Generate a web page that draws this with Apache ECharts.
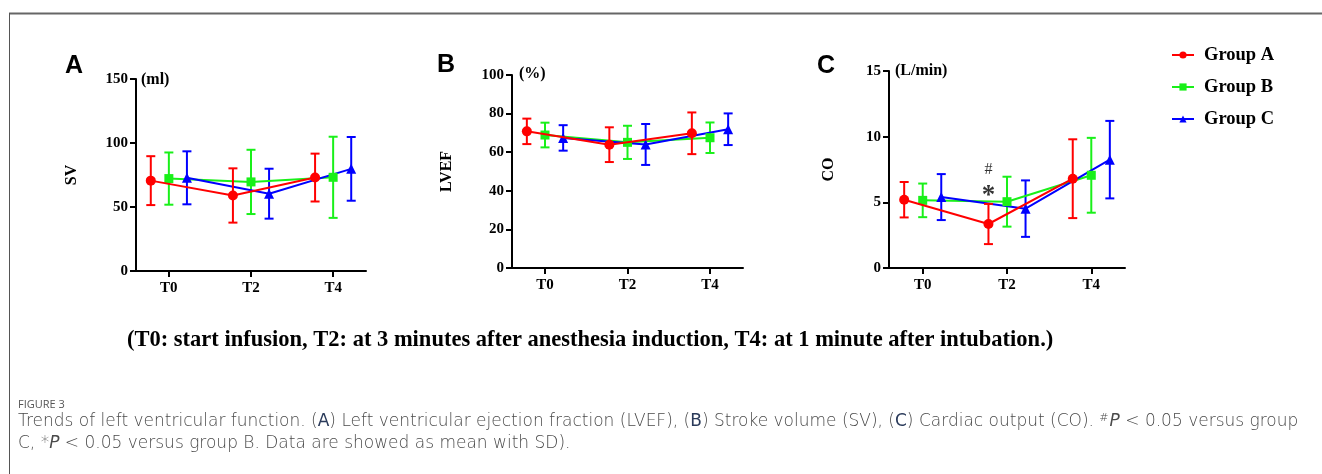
<!DOCTYPE html>
<html>
<head>
<meta charset="utf-8">
<script src="https://cdn.jsdelivr.net/npm/echarts@6/dist/echarts.min.js"></script>
<style>
html,body{margin:0;padding:0;background:#fff;}
#chart{width:1322px;height:474px;}
</style>
</head>
<body>
<div id="chart"></div>
<script>
// ---- data ----
const categories = ['T0', 'T2', 'T4'];
const groupNames = ['Group A', 'Group B', 'Group C'];

// SV (ml): mean and SD
const svA = [70.6, 59.0, 73.0];
const svA_sd = [19.1, 21.2, 18.7];
const svB = [72.2, 69.6, 73.2];
const svB_sd = [20.4, 25.1, 31.7];
const svC = [72.8, 60.4, 79.8];
const svC_sd = [20.7, 19.5, 24.9];

// LVEF (%): mean and SD
const efA = [70.8, 63.9, 69.8];
const efA_sd = [6.6, 9.0, 10.8];
const efB = [68.9, 65.1, 67.5];
const efB_sd = [6.4, 8.6, 7.9];
const efC = [67.4, 64.0, 71.9];
const efC_sd = [6.6, 10.6, 8.2];

// CO (L/min): mean and SD
const coA = [5.2, 3.35, 6.8];
const coA_sd = [1.35, 1.53, 3.0];
const coB = [5.15, 5.05, 7.06];
const coB_sd = [1.28, 1.9, 2.85];
const coC = [5.4, 4.52, 8.25];
const coC_sd = [1.75, 2.15, 2.95];

// significance marks on panel C (Group A at T2)
const sigText = ['#', '*'];
const sigValue = [7.45, 5.45];
const sigCategory = [1, 1];

// axis ticks
const svTicks = [0, 50, 100, 150];
const efTicks = [0, 20, 40, 60, 80, 100];
const coTicks = [0, 5, 10, 15];

// ---- styling ----
const colors = ['#ff0000', '#19f019', '#0000ff'];
const symbols = ['circle', 'rect', 'triangle'];
const symbolSizes = [10, 9, 10];
const dodge = [-0.22, 0, 0.22];
const serif = '"Liberation Serif", "Times New Roman", serif';

const panels = [
  { grid: { left: 136, top: 79, width: 230, height: 192 }, ticks: svTicks, name: 'SV', nameGap: 56,
    means: [svA, svB, svC], sds: [svA_sd, svB_sd, svC_sd] },
  { grid: { left: 512, top: 75, width: 231, height: 193 }, ticks: efTicks, name: 'LVEF', nameGap: 57,
    means: [efA, efB, efC], sds: [efA_sd, efB_sd, efC_sd] },
  { grid: { left: 889, top: 71, width: 236, height: 197 }, ticks: coTicks, name: 'CO', nameGap: 52,
    means: [coA, coB, coC], sds: [coA_sd, coB_sd, coC_sd] }
];

const grids = [], xAxes = [], yAxes = [], series = [];
const axisLineStyle = { color: '#000', width: 2 };
const labelFont = { fontFamily: serif, fontWeight: 'bold', fontSize: 15, color: '#000' };

panels.forEach((p, pi) => {
  grids.push(p.grid);
  xAxes.push({
    type: 'value', gridIndex: pi, min: -0.4, max: 2.4,
    axisLine: { show: true, onZero: false, lineStyle: axisLineStyle },
    axisTick: { show: true, length: 6, lineStyle: axisLineStyle, customValues: [0, 1, 2] },
    axisLabel: Object.assign({ margin: 10, customValues: [0, 1, 2],
      formatter: v => categories[Math.round(v)] }, labelFont),
    splitLine: { show: false }
  });
  const t = p.ticks;
  yAxes.push({
    type: 'value', gridIndex: pi, min: t[0], max: t[t.length - 1], interval: t[1] - t[0],
    axisLine: { show: true, onZero: false, lineStyle: axisLineStyle },
    axisTick: { show: true, length: 6, lineStyle: axisLineStyle },
    axisLabel: Object.assign({ margin: 8 }, labelFont),
    splitLine: { show: false },
    name: p.name, nameLocation: 'middle', nameGap: p.nameGap,
    nameTextStyle: { fontFamily: serif, fontWeight: 'bold', fontSize: 16, color: '#000' }
  });

  [1, 2, 0].forEach(g => {
    const mean = p.means[g], sd = p.sds[g], col = colors[g];
    series.push({
      type: 'custom', name: groupNames[g] + ' SD',
      xAxisIndex: pi, yAxisIndex: pi, z: g === 0 ? 6 : 3,
      data: categories.map((c, i) => [i + dodge[g], mean[i] - sd[i], mean[i] + sd[i]]),
      encode: { x: 0, y: [1, 2] },
      renderItem: (params, api) => {
        const x = api.value(0);
        const top = api.coord([x, api.value(2)]);
        const bot = api.coord([x, api.value(1)]);
        const w = 4.5;
        const st = { stroke: col, lineWidth: 2, fill: null };
        return { type: 'group', children: [
          { type: 'line', shape: { x1: top[0], y1: top[1], x2: bot[0], y2: bot[1] }, style: st },
          { type: 'line', shape: { x1: top[0] - w, y1: top[1], x2: top[0] + w, y2: top[1] }, style: st },
          { type: 'line', shape: { x1: bot[0] - w, y1: bot[1], x2: bot[0] + w, y2: bot[1] }, style: st }
        ]};
      },
      silent: true
    });
    series.push({
      type: 'line', name: groupNames[g], xAxisIndex: pi, yAxisIndex: pi,
      z: g === 0 ? 7 : 4,
      data: categories.map((c, i) => [i + dodge[g], mean[i]]),
      symbol: symbols[g], symbolSize: symbolSizes[g], showSymbol: true,
      lineStyle: { color: col, width: 2 }, itemStyle: { color: col }
    });
  });
});

// significance marks on panel C
series.push({
  type: 'scatter', xAxisIndex: 2, yAxisIndex: 2, symbolSize: 0, silent: true, z: 8,
  data: sigText.map((s, i) => ({
    value: [sigCategory[i] + dodge[0], sigValue[i], s],
    label: s === '*' ? { fontSize: 27, fontWeight: 'bold' } : { fontSize: 16 }
  })),
  label: { show: true, position: 'inside', formatter: pr => pr.value[2],
    fontFamily: serif, color: '#000' }
});

const mainCaption = '(T0: start infusion, T2: at 3 minutes after anesthesia induction, T4: at 1 minute after intubation.)';
const capFont = '"DejaVu Sans", sans-serif';

const graphics = [
  { type: 'line', shape: { x1: 9, y1: 13.5, x2: 1322, y2: 13.5 }, style: { stroke: '#666', lineWidth: 2 } },
  { type: 'line', shape: { x1: 9.5, y1: 13, x2: 9.5, y2: 474 }, style: { stroke: '#555', lineWidth: 1 } },
  { type: 'text', x: 65, y: 66, style: { text: 'A', font: 'bold 25px "Liberation Sans", Arial, sans-serif', fill: '#000', verticalAlign: 'middle' } },
  { type: 'text', x: 437, y: 65, style: { text: 'B', font: 'bold 25px "Liberation Sans", Arial, sans-serif', fill: '#000', verticalAlign: 'middle' } },
  { type: 'text', x: 817, y: 66, style: { text: 'C', font: 'bold 25px "Liberation Sans", Arial, sans-serif', fill: '#000', verticalAlign: 'middle' } },
  { type: 'text', x: 141, y: 80, style: { text: '(ml)', font: 'bold 16px ' + serif, fill: '#000', verticalAlign: 'middle' } },
  { type: 'text', x: 519, y: 74, style: { text: '(%)', font: 'bold 16px ' + serif, fill: '#000', verticalAlign: 'middle' } },
  { type: 'text', x: 895, y: 71, style: { text: '(L/min)', font: 'bold 16px ' + serif, fill: '#000', verticalAlign: 'middle' } },
  { type: 'text', x: 127, y: 340, style: { text: mainCaption, font: 'bold 22.5px ' + serif, fill: '#000', verticalAlign: 'middle' } },
  { type: 'text', x: 18, y: 405, style: { text: 'FIGURE 3', font: '11px "Open Sans", sans-serif', fill: '#555', verticalAlign: 'middle' } },
  { type: 'text', x: 18, y: 422, style: {
      text: 'Trends of left ventricular function. ({d|A}) Left ventricular ejection fraction (LVEF), ({d|B}) Stroke volume (SV), ({d|C}) Cardiac output (CO). {sup|#}{i|P} < 0.05 versus group',
      font: '200 17px ' + capFont, fill: '#4a4a4a', verticalAlign: 'middle',
      rich: {
        d: { fontFamily: capFont, fontSize: 17, fill: '#2a3a5a', fontWeight: 'normal' },
        sup: { fontFamily: capFont, fontSize: 11, fill: '#4a4a4a', fontWeight: 200, verticalAlign: 'top', padding: [0, 1, 8, 0] },
        i: { fontFamily: capFont, fontSize: 17, fill: '#4a4a4a', fontWeight: 200, fontStyle: 'italic' }
      } } },
  { type: 'text', x: 18, y: 444, style: {
      text: 'C, *{i|P} < 0.05 versus group B. Data are showed as mean with SD).',
      font: '200 17px ' + capFont, fill: '#4a4a4a', verticalAlign: 'middle',
      rich: {
        i: { fontFamily: capFont, fontSize: 17, fill: '#4a4a4a', fontWeight: 200, fontStyle: 'italic' }
      } } }
];

const chart = echarts.init(document.getElementById('chart'), null, { renderer: 'canvas' });
chart.setOption({
  animation: false,
  backgroundColor: '#fff',
  grid: grids,
  xAxis: xAxes,
  yAxis: yAxes,
  legend: {
    data: groupNames, orient: 'vertical', left: 1166, top: 40,
    itemWidth: 22, itemHeight: 9, itemGap: 12,
    textStyle: { fontFamily: serif, fontWeight: 'bold', fontSize: 18.5, color: '#000', lineHeight: 20, padding: [0, 0, 0, 5] }
  },
  series: series,
  graphic: graphics
});
</script>
</body>
</html>
